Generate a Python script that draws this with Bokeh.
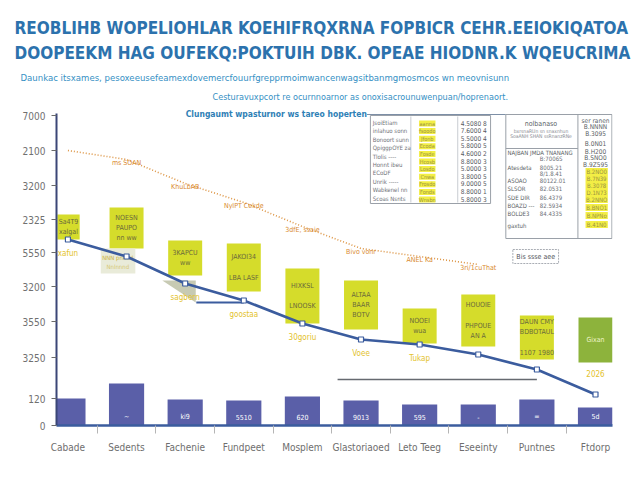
from bokeh.plotting import figure
from bokeh.models import Range1d, FixedTicker, Title, ColumnDataSource
from bokeh.core.properties import value
from bokeh.embed import file_html
from bokeh.resources import INLINE

# ---------------------------------------------------------------- data
categories = ["Cabade", "Sedents", "Fachenie", "Fundpeet", "Mosplem",
              "Glastoriaoed", "Leto Teeg", "Eseeinty", "Puntnes", "Ftdorp"]
bar_values = [27, 42, 26, 25, 29, 25, 21, 21, 26, 18]
bar_labels = ["", "~", "ki9", "5510", "620", "9013", "595", "-", "=", "5d"]

range_low = [186, 177, 150, 134, 102, 96, 82, 79, 66, 63]
range_high = [211, 218, 185, 182, 157, 145, 117, 131, 110, 108]
range_text = ["Sa4T9\nxalgal", "NOESN\nPAUPO\nnn ww", "3KAPCU\nww",
              "JAKOI34\n\nLBA LASF", "HIXKSL\n\nLNOOSK", "ALTAA\nBAAR\nBOTV",
              "NOOEI\nwua", "HOUOIE\n\nPHPOUE\nAN A",
              "DAUN CMY\nBDBOTAUL\n\n1107 1980", "Gixan"]

trend = [186, 169, 142, 125, 102, 86, 81, 71, 56, 31]
trend_notes = ["xafun", "", "sagbern", "goostaa", "30goriu", "Voee",
               "Tukap", "", "", "2026"]
target_level = 123
baseline_level = 46

forecast = [275, 266, 242, 223, 199, 177, 169, 161]
forecast_notes = ["", "ms SOAN", "KhuLbAB", "NyIPT Cekde", "3dfE, ssaie",
                  "Bivo vonr", "ANEL Ka", "3ri/1cuThat"]

y_ticks = [0, 27, 68, 104, 139, 173, 206, 240, 275, 310]
y_tick_labels = ["0", "120", "3250", "3550", "3200", "5550", "2325",
                 "3200", "2100", "7000"]

title_1 = "REOBLIHB WOPELIOHLAR KOEHIFRQXRNA FOPBICR CEHR.EEIOKIQATOA"
title_2 = "DOOPEEKM HAG OUFEKQ:POKTUIH DBK. OPEAE HIODNR.K WQEUCRIMA"
subtitle_1 = ("Daunkac itsxames, pesoxeeusefeamexdovemercfouurfgrepprmoimwan"
              "cenwagsitbanmgmosmcos wn meovnisunn")
subtitle_2 = "Cesturavuxpcort re  ocurnnoarnor as onoxisacrounuwenpuan/hoprenaort."
subtitle_3 = "Clungaumt  wpasturnor ws tareo hoperten"

# left table
t1_names = ["JsoiEtiam", "inlahuo sonn", "Bonoort sunn", "QpiggpOYE za",
            "Tlolis ----", "Honnt ibeu", "ECoDF", "Unrik -----",
            "Wabkenel nn", "Scoas Nsnts"]
t1_marks = ["aanna", "fsoodo", "Jfonb", "Ecoda", "Fosde", "Hcosb", "Losdo",
            "Cnwa", "Frosdo", "Fonds", "Wnsbn"]
t1_numbers = ["4.5080 8", "7.6000 4", "5.5000 4", "5.8000 5", "4.6000 2",
              "8.8000 3", "5.0000 3", "3.8000 5", "9.0000 5", "8.8000 1",
              "5.8000 3"]
# right table
t2_head = ["nolbanaso", "bxrsnaRUn sn snaxnhun", "SoaANH SHAN ssRnanzRNe"]
t2_names = ["NAJBAN  JMDA TNANANG", "", "Atesdeta", "", "ASOAO", "SLSOR",
            "SDE DIR", "BOAZD ---", "BOLDE3", "gaxtuh"]
t2_values = ["", "B:7006S", "8005.21", "8/1.8.41", "80122.01", "82.0531",
             "86.4379", "82.5934", "84.4335", ""]
t2_column = ["ser ranen", "B.NNNN", "B.3095", "B.0N01", "B.H200",
             "B.SNO0", "B.9Z595"]
t2_marked = ["B.2NO0", "B.7N39", "B.3078", "D.1N73", "B.2NNO",
             "B.BNO1", "B.NPNo", "B.41N0"]
note_box = "Bis ssse aee"

# ---------------------------------------------------------------- styles
FONT = "DejaVu Sans Condensed, DejaVu Sans, sans-serif"
BLUE_TITLE = "#2c72ad"
BAR = "#5a5fa8"
LINE = "#3b5c9e"
BOX = "#d5dc2b"
BOX_DARK = "#8db33c"
YELLOW_TXT = "#e3c22c"
ORANGE = "#d98a30"
GRID_GRAY = "#9aa0a8"

xs = list(range(1, len(categories) + 1))

p = figure(width=640, height=480, output_backend="svg", toolbar_location=None,
           x_range=Range1d(0.805, 10.29), y_range=Range1d(0, 321),
           min_border_left=56, min_border_right=28, min_border_top=104,
           min_border_bottom=55)
p.outline_line_color = None
p.xgrid.visible = False
p.ygrid.visible = False
p.background_fill_color = "white"
p.border_fill_color = "white"

# titles, stacked from the frame outward
for txt, size, color, style, standoff, offset in [
        (subtitle_2, "9px", "#3590c4", "normal", 5, 156),
        (subtitle_1, "9.5px", "#3590c4", "normal", 10, -36),
        (title_2, "17px", BLUE_TITLE, "bold", 4, -42),
        (title_1, "17px", BLUE_TITLE, "bold", 2, -42)]:
    p.add_layout(Title(text=txt, align="left", offset=offset,
                       text_font_size=size, text_color=color,
                       text_font=FONT, text_font_style=style,
                       standoff=standoff), "above")

# axes
p.xaxis.ticker = FixedTicker(ticks=xs, minor_ticks=[x + 0.5 for x in xs[:-1]])
p.xaxis.major_label_overrides = {x: c for x, c in zip(xs, categories)}
p.xaxis.major_tick_line_color = None
p.xaxis.major_tick_out = 0
p.xaxis.minor_tick_out = 8
p.xaxis.minor_tick_in = 0
p.xaxis.minor_tick_line_color = "#b5b5b5"
p.xaxis.axis_line_color = LINE
p.xaxis.axis_line_width = 2.5
p.xaxis.major_label_standoff = 8
p.xaxis.major_label_text_font_size = "10px"
p.xaxis.major_label_text_color = "#6e6e6e"
p.xaxis.major_label_text_font = FONT

p.yaxis.ticker = FixedTicker(ticks=y_ticks)
p.yaxis.major_label_overrides = {t: l for t, l in zip(y_ticks, y_tick_labels)}
p.yaxis.bounds = (0, 312)
p.yaxis.axis_line_color = "#3b4677"
p.yaxis.axis_line_width = 2
p.yaxis.major_tick_out = 5
p.yaxis.major_tick_in = 0
p.yaxis.major_tick_line_color = "#6a6a6a"
p.yaxis.minor_tick_line_color = None
p.yaxis.major_label_standoff = 6
p.yaxis.major_label_text_font_size = "10px"
p.yaxis.major_label_text_color = "#707070"
p.yaxis.major_label_text_font = FONT

# bars
bars = ColumnDataSource(dict(x=xs, top=bar_values, label=bar_labels))
p.vbar(x="x", top="top", bottom=0, width=0.6, source=bars,
       fill_color=BAR, line_color=None)
p.text(x="x", y=0, text="label", source=bars, text_align="center",
       text_baseline="middle", y_offset=-9, text_color="white",
       text_font_size="7px", text_font=value(FONT))

# floating range boxes
box_x = xs[:]
box_w = [0.38] + [0.58] * (len(xs) - 1)
box_x[0] = 1.01
box_col = [BOX] * (len(xs) - 1) + [BOX_DARK]
box_txt_col = ["#6b6a3c"] * (len(xs) - 1) + ["#eef3c8"]
boxes = ColumnDataSource(dict(x=box_x, w=box_w, low=range_low, high=range_high,
                              col=box_col, txt=range_text, tcol=box_txt_col,
                              mid=[(a + b) / 2 for a, b in zip(range_low, range_high)]))
p.vbar(x="x", width="w", bottom="low", top="high", source=boxes,
       fill_color="col", line_color=None)
p.text(x="x", y="mid", text="txt", source=boxes, text_align="center",
       text_baseline="middle", text_color="tcol", text_font_size="7px",
       text_font=value(FONT), text_line_height=1.3)

# pale shading under the second and third boxes
p.quad(left=1.56, right=2.15, bottom=range_low[1] - 25, top=range_low[1],
       fill_color="#e9ebd9", line_color=None)
p.text(x=[1.85, 1.85], y=[range_low[1] - 9, range_low[1] - 18],
       text=["NNN pnnnd", "Nnlnnnd"], text_align="center",
       text_baseline="middle", text_color=["#c9b23a", "#d6c770"],
       text_font_size="6px", text_font=value(FONT))
p.patch(x=[2.61, 3.18, 3.18], y=[range_low[2] - 5, range_low[2] - 5, target_level],
        fill_color="#c7cab3", line_color=None)

# reference levels
p.segment(x0=3.19, y0=target_level, x1=4, y1=target_level,
          line_color=LINE, line_width=2.2)
p.segment(x0=5.6, y0=baseline_level, x1=9.0, y1=baseline_level,
          line_color="#666a70", line_width=1.4)

# trend line with markers and notes (last note sits above its marker)
note_shift = [14] * (len(xs) - 1) + [-21]
trend_src = ColumnDataSource(dict(x=xs, y=trend, note=trend_notes, dy=note_shift))
p.line(x="x", y="y", source=trend_src, line_color=LINE, line_width=2.6)
p.scatter(x="x", y="y", source=trend_src, marker="square", size=5,
          fill_color="white", line_color=LINE, line_width=1.2)
p.text(x="x", y="y", text="note", source=trend_src, text_align="center",
       text_baseline="middle", y_offset="dy", text_color=YELLOW_TXT,
       text_font_size="8px", text_font=value(FONT))

# forecast dotted line with its notes
fx = xs[:len(forecast)]
fc_src = ColumnDataSource(dict(x=fx, y=forecast, note=forecast_notes))
p.line(x="x", y="y", source=fc_src, line_color=ORANGE, line_width=1.6,
       line_dash="1 2", line_alpha=0.9)
p.text(x="x", y="y", text="note", source=fc_src, text_align="center",
       text_baseline="middle", y_offset=3, text_color=ORANGE,
       text_font_size="7px", text_font=value(FONT))

# third subtitle line with rule across to the right table
p.text(x=[3.01], y=[312], text=[subtitle_3], text_align="left",
       text_baseline="middle", text_color="#2f7fb6", text_font_size="8.5px",
       text_font=value(FONT), text_font_style="bold")
p.segment(x0=6.1, y0=311, x1=8.47, y1=311, line_color="#7d8fa6", line_width=1.2)

# left table
p.quad(left=6.16, right=8.21, bottom=222, top=310, fill_color="white",
       line_color=GRID_GRAY, line_width=1)
p.segment(x0=[6.85, 7.65], y0=[309, 309], x1=[6.85, 7.65], y1=[223, 223],
          line_color="#c9ccd2", line_width=1)
n1 = len(t1_names)
row1 = [303 - i * 8.4 for i in range(n1)]
p.text(x=[6.2] * n1, y=row1, text=t1_names, text_align="left",
       text_baseline="middle", text_color="#6f7278", text_font_size="6px",
       text_font=value(FONT))
n2 = len(t1_marks)
row2 = [302 - i * 7.6 for i in range(n2)]
p.quad(left=[6.99] * n2, right=[7.27] * n2, bottom=[r - 3 for r in row2],
       top=[r + 3 for r in row2], fill_color="#f3ee45", line_color=None)
p.text(x=[7.13] * n2, y=row2, text=t1_marks, text_align="center",
       text_baseline="middle", text_color="#9a9440", text_font_size="5.5px",
       text_font=value(FONT))
n3 = len(t1_numbers)
row3 = [302 - i * 7.6 for i in range(n3)]
p.text(x=[7.7] * n3, y=row3, text=t1_numbers, text_align="left",
       text_baseline="middle", text_color="#55585e", text_font_size="6.5px",
       text_font=value(FONT))

# right table
p.quad(left=8.47, right=10.28, bottom=187, top=311, fill_color="white",
       line_color=GRID_GRAY, line_width=1)
p.segment(x0=[9.7, 8.47], y0=[311, 277], x1=[9.7, 9.7], y1=[187, 277],
          line_color=GRID_GRAY, line_width=1)
p.text(x=[9.07] * 3, y=[302, 295, 290], text=t2_head, text_align="center",
       text_baseline="middle", text_color=["#5c5f66", "#8a8d93", "#8a8d93"],
       text_font_size=["7px", "5px", "5px"], text_font=value(FONT))
row4 = [273, 267, 258, 252, 245, 237, 228, 220, 212, 200]
p.text(x=[8.5] * len(t2_names), y=row4, text=t2_names, text_align="left",
       text_baseline="middle", text_color="#5c5f66", text_font_size="6px",
       text_font=value(FONT))
p.text(x=[9.05] * len(t2_values), y=row4, text=t2_values, text_align="left",
       text_baseline="middle", text_color="#6c6f76", text_font_size="6px",
       text_font=value(FONT))
row5 = [305, 299, 292, 282, 274, 268, 261]
p.text(x=[10.0] * len(t2_column), y=row5, text=t2_column, text_align="center",
       text_baseline="middle", text_color="#5c5f66", text_font_size="6.5px",
       text_font=value(FONT))
row6 = [254, 247, 240, 233, 226, 218, 210, 201]
p.quad(left=[9.83] * len(row6), right=[10.21] * len(row6),
       bottom=[r - 3.6 for r in row6], top=[r + 3.6 for r in row6],
       fill_color="#f3ee45", line_color=None)
p.text(x=[10.02] * len(t2_marked), y=row6, text=t2_marked, text_align="center",
       text_baseline="middle", text_color="#9a9440", text_font_size="6px",
       text_font=value(FONT))

# small note box
p.quad(left=8.59, right=9.37, bottom=162, top=176, fill_color="white",
       line_color="#a9adb4", line_dash="2 1", line_width=1)
p.text(x=[8.98], y=[169], text=[note_box], text_align="center",
       text_baseline="middle", text_color="#55585e", text_font_size="7px",
       text_font=value(FONT))

open("out.html", "w").write(file_html(p, INLINE))
